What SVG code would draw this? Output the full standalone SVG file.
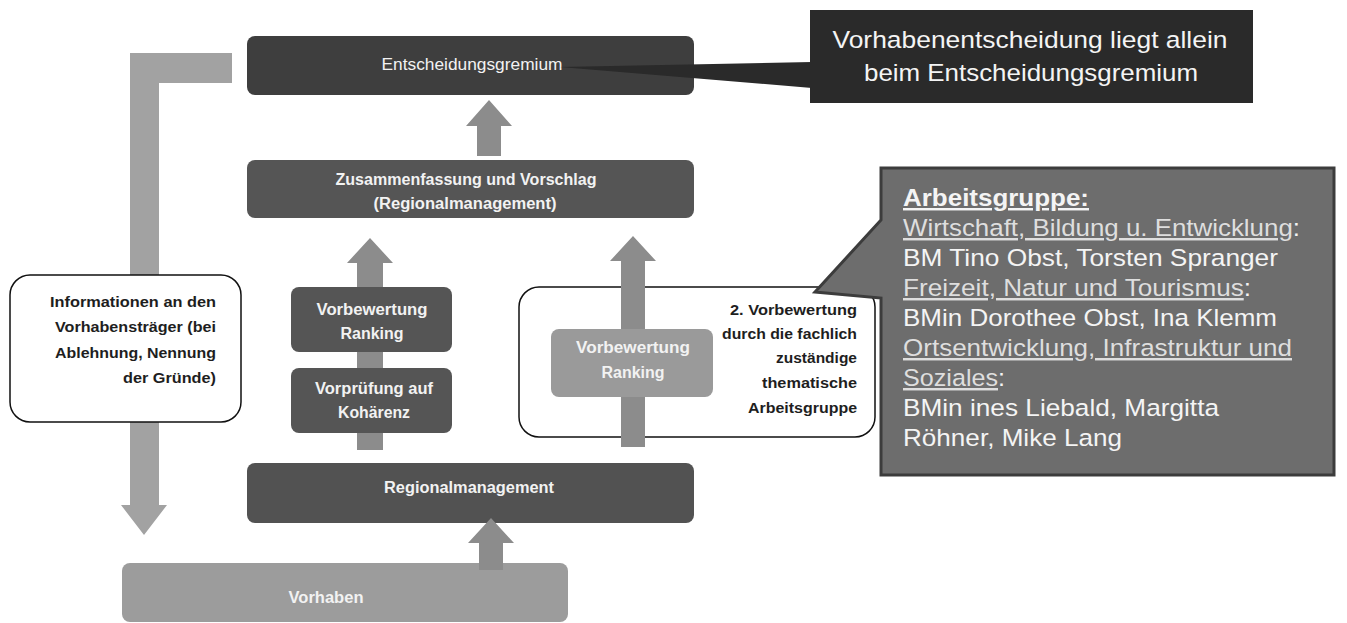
<svg xmlns="http://www.w3.org/2000/svg" width="1347" height="623" viewBox="0 0 1347 623">
<style>
.box{stroke:none}
.lbl{font-family:"Liberation Sans",Arial,sans-serif;font-weight:bold;font-size:16px;fill:#f2f2f2;text-anchor:middle}
.dark{font-family:"Liberation Sans",Arial,sans-serif;font-weight:bold;font-size:15.5px;fill:#1e1e1e;text-anchor:end}
.small{font-size:14.5px}
.big{font-family:"Liberation Sans",Arial,sans-serif;font-size:24.5px;fill:#f4f4f4}
.ul{text-decoration:underline;fill:#dedede}
.arrow{fill:#8c8c8c}
</style>
<rect width="1347" height="623" fill="#ffffff"/>
<g id="connectors">
  <path id="arrow-return" d="M130,53 L232,53 L232,83 L159,83 L159,505 L167,505 L144,535 L121,505 L130,505 Z" fill="#a2a2a2"/>
  <path id="arrow-zus-ent" class="arrow" d="M489,100 L512,126 L501,126 L501,156 L477,156 L477,126 L466,126 Z"/>
  <path id="arrow-left-col" class="arrow" d="M370,238 L393,263 L383,263 L383,450 L357,450 L357,263 L347,263 Z"/>
</g>
<g id="node-info">
  <rect x="10" y="275" width="231" height="147" rx="20" fill="#ffffff" stroke="#111" stroke-width="1.5"/>
  <text class="dark" x="216" y="307" textLength="166" lengthAdjust="spacingAndGlyphs">Informationen an den</text>
  <text class="dark" x="216" y="332" textLength="161" lengthAdjust="spacingAndGlyphs">Vorhabensträger (bei</text>
  <text class="dark" x="216" y="358" textLength="161" lengthAdjust="spacingAndGlyphs">Ablehnung, Nennung</text>
  <text class="dark" x="216" y="383" textLength="93" lengthAdjust="spacingAndGlyphs">der Gründe)</text>
</g>
<g id="node-entscheidungsgremium">
  <rect class="box" x="247" y="36" width="447" height="59" rx="8" fill="#3e3e3e"/>
  <text class="lbl" x="472" y="70" style="font-weight:normal" textLength="181" lengthAdjust="spacingAndGlyphs">Entscheidungsgremium</text>
</g>
<g id="node-zusammenfassung">
  <rect class="box" x="247" y="160" width="447" height="58" rx="8" fill="#555555"/>
  <text class="lbl" x="466" y="185" textLength="261" lengthAdjust="spacingAndGlyphs">Zusammenfassung und Vorschlag</text>
  <text class="lbl" x="465" y="209" textLength="183" lengthAdjust="spacingAndGlyphs">(Regionalmanagement)</text>
</g>
<g id="node-vorbewertung-1">
  <rect class="box" x="291" y="287" width="161" height="65" rx="8" fill="#555555"/>
  <text class="lbl" x="372" y="315" textLength="111" lengthAdjust="spacingAndGlyphs">Vorbewertung</text>
  <text class="lbl" x="372" y="339" textLength="63" lengthAdjust="spacingAndGlyphs">Ranking</text>
</g>
<g id="node-vorpruefung">
  <rect class="box" x="291" y="368" width="161" height="65" rx="8" fill="#555555"/>
  <text class="lbl" x="374" y="394" textLength="118" lengthAdjust="spacingAndGlyphs">Vorprüfung auf</text>
  <text class="lbl" x="374" y="418" textLength="72" lengthAdjust="spacingAndGlyphs">Kohärenz</text>
</g>
<g id="node-arbeitsgruppe-frame">
  <rect x="519" y="287" width="356" height="150" rx="20" fill="#ffffff" stroke="#111" stroke-width="1.5"/>
  <text class="dark small" x="857" y="315" textLength="127" lengthAdjust="spacingAndGlyphs">2. Vorbewertung</text>
  <text class="dark small" x="857" y="339" textLength="135" lengthAdjust="spacingAndGlyphs">durch die fachlich</text>
  <text class="dark small" x="857" y="363" textLength="81" lengthAdjust="spacingAndGlyphs">zuständige</text>
  <text class="dark small" x="857" y="388" textLength="95" lengthAdjust="spacingAndGlyphs">thematische</text>
  <text class="dark small" x="857" y="413" textLength="109" lengthAdjust="spacingAndGlyphs">Arbeitsgruppe</text>
</g>
<g id="connector-right">
  <path id="arrow-right-col" class="arrow" d="M633,236 L656,261 L645,261 L645,447 L621,447 L621,261 L610,261 Z"/>
</g>
<g id="node-vorbewertung-2">
  <rect class="box" x="551" y="329" width="162" height="68" rx="8" fill="#9a9a9a"/>
  <text class="lbl" x="633" y="353" textLength="114" lengthAdjust="spacingAndGlyphs">Vorbewertung</text>
  <text class="lbl" x="633" y="378" textLength="63" lengthAdjust="spacingAndGlyphs">Ranking</text>
</g>
<g id="node-regionalmanagement">
  <rect class="box" x="247" y="463" width="447" height="60" rx="8" fill="#525252"/>
  <text class="lbl" x="469" y="493" textLength="170" lengthAdjust="spacingAndGlyphs">Regionalmanagement</text>
</g>
<g id="node-vorhaben">
  <rect class="box" x="122" y="563" width="446" height="59" rx="8" fill="#9c9c9c"/>
  <text class="lbl" x="326" y="603" textLength="75" lengthAdjust="spacingAndGlyphs">Vorhaben</text>
</g>
<g id="connector-vor-reg">
  <path id="arrow-vor-reg" class="arrow" d="M491,518 L514,543 L503,543 L503,570 L479,570 L479,543 L468,543 Z"/>
</g>
<g id="callout-entscheidung">
  <polygon points="812,62 812,88 560,67" fill="#2a2a2a"/>
  <rect x="810" y="10" width="443" height="93" fill="#2a2a2a"/>
  <text class="big" x="1030" y="48" text-anchor="middle" textLength="395" lengthAdjust="spacingAndGlyphs">Vorhabenentscheidung liegt allein</text>
  <text class="big" x="1031" y="81" text-anchor="middle" textLength="334" lengthAdjust="spacingAndGlyphs">beim Entscheidungsgremium</text>
</g>
<g id="callout-arbeitsgruppe">
  <path d="M881,168 H1334 V475 H881 V298 L815,292 L881,220 Z" fill="#6d6d6d" stroke="#3c3c3c" stroke-width="3"/>
  <text class="big" x="903" y="206" textLength="186" lengthAdjust="spacingAndGlyphs"><tspan style="font-weight:bold;text-decoration:underline">Arbeitsgruppe:</tspan></text>
  <text class="big" x="903" y="236" textLength="397" lengthAdjust="spacingAndGlyphs"><tspan class="ul">Wirtschaft, Bildung u. Entwicklung</tspan>:</text>
  <text class="big" x="903" y="266" textLength="375" lengthAdjust="spacingAndGlyphs">BM Tino Obst, Torsten Spranger</text>
  <text class="big" x="903" y="296" textLength="348" lengthAdjust="spacingAndGlyphs"><tspan class="ul">Freizeit, Natur und Tourismus</tspan>:</text>
  <text class="big" x="903" y="326" textLength="374" lengthAdjust="spacingAndGlyphs">BMin Dorothee Obst, Ina Klemm</text>
  <text class="big" x="903" y="356" textLength="389" lengthAdjust="spacingAndGlyphs"><tspan class="ul">Ortsentwicklung, Infrastruktur und</tspan></text>
  <text class="big" x="903" y="386" textLength="102" lengthAdjust="spacingAndGlyphs"><tspan class="ul">Soziales</tspan>:</text>
  <text class="big" x="903" y="416" textLength="316" lengthAdjust="spacingAndGlyphs">BMin ines Liebald, Margitta</text>
  <text class="big" x="903" y="446" textLength="219" lengthAdjust="spacingAndGlyphs">Röhner, Mike Lang</text>
</g>
</svg>
